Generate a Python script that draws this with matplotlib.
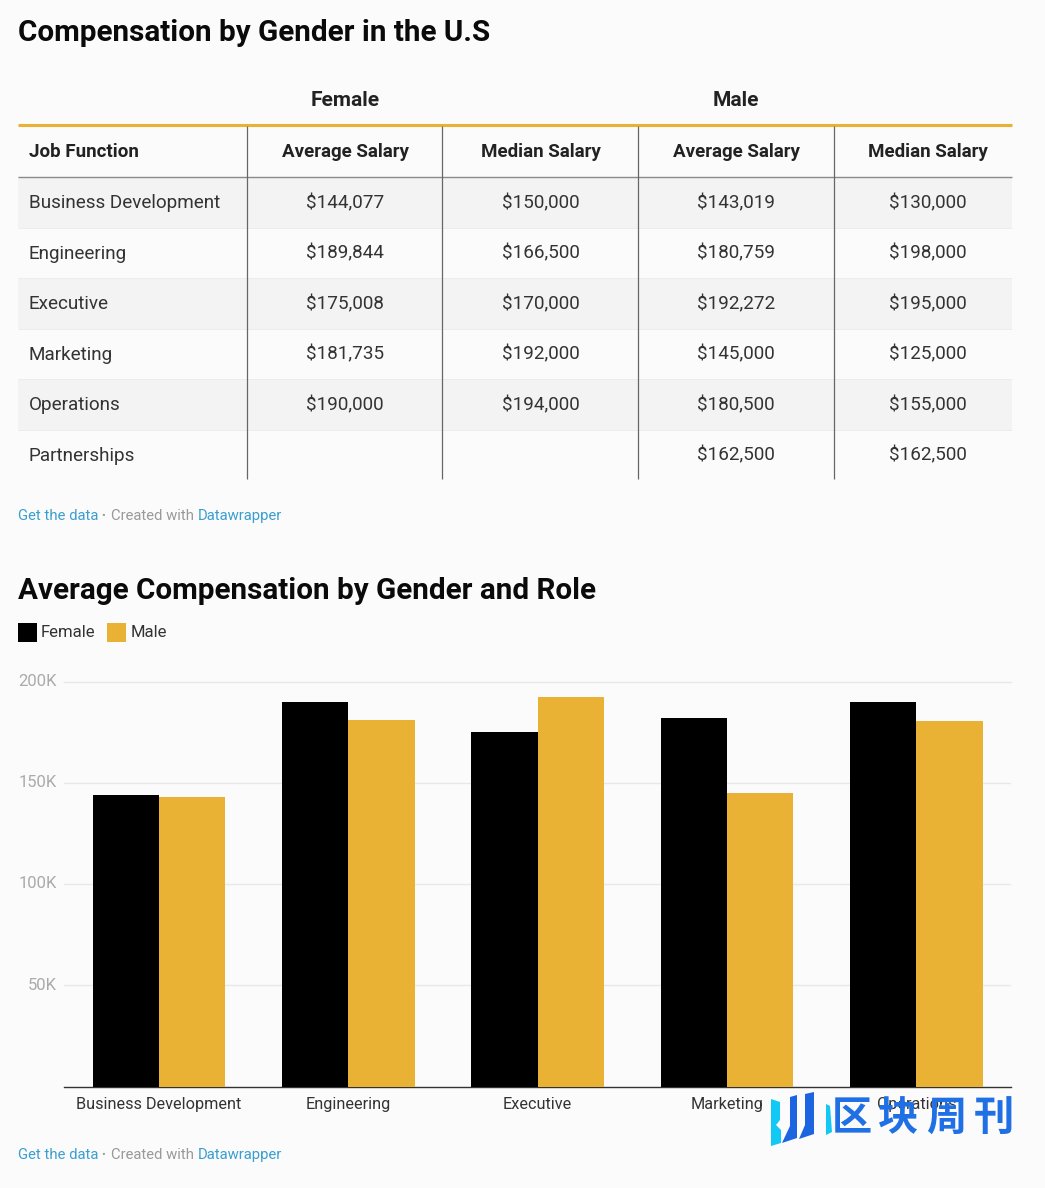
import matplotlib
matplotlib.use('Agg')
import matplotlib.pyplot as plt
from matplotlib.patches import Rectangle, Polygon

plt.rcParams['font.family'] = ['Roboto', 'Noto Sans CJK SC', 'DejaVu Sans']

jobs = ['Business Development', 'Engineering', 'Executive', 'Marketing', 'Operations', 'Partnerships']
female_avg = ['$144,077', '$189,844', '$175,008', '$181,735', '$190,000', '']
female_med = ['$150,000', '$166,500', '$170,000', '$192,000', '$194,000', '']
male_avg = ['$143,019', '$180,759', '$192,272', '$145,000', '$180,500', '$162,500']
male_med = ['$130,000', '$198,000', '$195,000', '$125,000', '$155,000', '$162,500']
col_heads = ['Average Salary', 'Median Salary', 'Average Salary', 'Median Salary']

roles = ['Business Development', 'Engineering', 'Executive', 'Marketing', 'Operations']
female_vals = [144077, 189844, 175008, 181735, 190000]
male_vals = [143019, 180759, 192272, 145000, 180500]
y_ticks = [50000, 100000, 150000, 200000]
y_labels = ['50K', '100K', '150K', '200K']

BG = '#fbfbfb'
GOLD = '#e9b234'
DARK = '#333333'
BLUE = '#3a9ed0'
W, H = 1045, 1188

fig = plt.figure(figsize=(W / 100, H / 100), dpi=100, facecolor=BG)

# pixel layer, y goes down like in the screenshot
page = fig.add_axes([0, 0, 1, 1], zorder=1)
page.set_xlim(0, W)
page.set_ylim(H, 0)
page.axis('off')

page.text(18, 41, 'Compensation by Gender in the U.S', fontsize=21.3, fontweight='bold',
          color='#0a0a0a', va='baseline')
page.text(345, 106, 'Female', fontsize=15, fontweight='bold', color='#222222', ha='center', va='baseline')
page.text(736, 106, 'Male', fontsize=15, fontweight='bold', color='#222222', ha='center', va='baseline')

row_h = 50.5
top = 177
col_x = [345, 541, 736, 928]
sep_x = [247, 442, 638, 833.5]

for i, job in enumerate(jobs):
    y0 = top + i * row_h
    if i % 2 == 0:
        page.add_patch(Rectangle((18, y0), 994, row_h, fc='#f3f3f3', ec='none'))
    if i > 0:
        page.plot([18, 1012], [y0, y0], color='#ececec', lw=0.7, solid_capstyle='butt')
    base = y0 + row_h / 2 + 6
    page.text(29, base, job, fontsize=13.6, color=DARK, va='baseline')
    cells = [female_avg[i], female_med[i], male_avg[i], male_med[i]]
    for x, val in zip(col_x, cells):
        page.text(x, base, val, fontsize=13.6, color=DARK, ha='center', va='baseline')

page.text(29, 157, 'Job Function', fontsize=13.5, fontweight='bold', color='#222222', va='baseline')
for x, head in zip(col_x, col_heads):
    page.text(x, 157, head, fontsize=13.5, fontweight='bold', color='#222222', ha='center', va='baseline')

page.plot([18, 1012], [124.5, 124.5], color=GOLD, lw=2.2, solid_capstyle='butt')
page.plot([18, 1012], [176.5, 176.5], color='#8a8a8a', lw=1.0, solid_capstyle='butt')
for x in sep_x:
    page.plot([x, x], [126, 479], color='#666666', lw=0.9, solid_capstyle='butt')


def footer(y):
    page.text(18, y, 'Get the data', fontsize=10.7, color=BLUE, va='center')
    page.text(101.5, y, '•', fontsize=8, color='#999999', va='center')
    page.text(111, y, 'Created with', fontsize=10.7, color='#999999', va='center')
    page.text(198, y, 'Datawrapper', fontsize=10.7, color=BLUE, va='center')


footer(516)
footer(1155)

page.text(18, 599, 'Average Compensation by Gender and Role', fontsize=21.3, fontweight='bold',
          color='#0a0a0a', va='baseline')

# legend
page.add_patch(Rectangle((18, 623), 19, 19, fc='black', ec='none'))
page.text(41, 632.5, 'Female', fontsize=12, color=DARK, va='center')
page.add_patch(Rectangle((107, 623), 19, 19, fc=GOLD, ec='none'))
page.text(131, 632.5, 'Male', fontsize=12, color=DARK, va='center')

# bar chart
ax = fig.add_axes([64 / W, 1 - 1086.5 / H, 947 / W, 405 / H], zorder=2)
ax.patch.set_alpha(0)
xs = list(range(len(roles)))
ax.bar([x - 0.174 for x in xs], female_vals, 0.35, color='black', zorder=3)
ax.bar([x + 0.176 for x in xs], male_vals, 0.35, color=GOLD, zorder=3)
ax.set_xlim(-0.5, 4.5)
ax.set_ylim(0, 200000)
for s in ['top', 'left', 'right']:
    ax.spines[s].set_visible(False)
ax.spines['bottom'].set_color('#333333')
ax.spines['bottom'].set_linewidth(1)
ax.set_xticks(xs)
ax.set_xticklabels(roles, fontsize=11.7, color=DARK)
ax.tick_params(axis='x', length=0, pad=7.5)
ax.set_yticks(y_ticks)
ax.set_yticklabels([])
ax.tick_params(axis='y', length=0)
ax.grid(axis='y', color='#e8e8e8', lw=1, zorder=0)
ax.set_axisbelow(True)
ax.yaxis.get_gridlines()[-1].set_clip_on(False)
for v, lab in zip(y_ticks, y_labels):
    ax.annotate(lab, (0, v), xycoords=ax.get_yaxis_transform(), xytext=(-7, 0), textcoords='offset pixels',
                fontsize=12, color='#aaaaaa', va='center', ha='right', annotation_clip=False)

# watermark on top of everything
mark = fig.add_axes([0, 0, 1, 1], zorder=5)
mark.set_xlim(0, W)
mark.set_ylim(H, 0)
mark.axis('off')
LOGO = '#1f6fe5'
mark.add_patch(Polygon([(771, 1099), (780, 1102), (780, 1120), (776, 1125), (781, 1130), (781, 1143), (771, 1146)],
                       fc='#12c8f5', ec='none'))
mark.add_patch(Polygon([(790, 1097), (797, 1095), (797, 1138), (782, 1143), (790, 1126)],
                       fc='#1c64e0', ec='none'))
mark.add_patch(Polygon([(805, 1094), (814, 1092), (814, 1134), (799, 1139), (805, 1125)],
                       fc='#1c64e0', ec='none'))
mark.add_patch(Polygon([(826, 1104), (830, 1106), (832, 1132), (826, 1135)], fc='#12c8f5', ec='none'))
for cx, ch in zip([852, 898, 946, 994], '区块周刊'):
    mark.text(cx, 1119, ch, fontsize=29, color=LOGO, fontweight='bold', ha='center', va='center')

fig.savefig('out.png', dpi=100, facecolor=BG)
